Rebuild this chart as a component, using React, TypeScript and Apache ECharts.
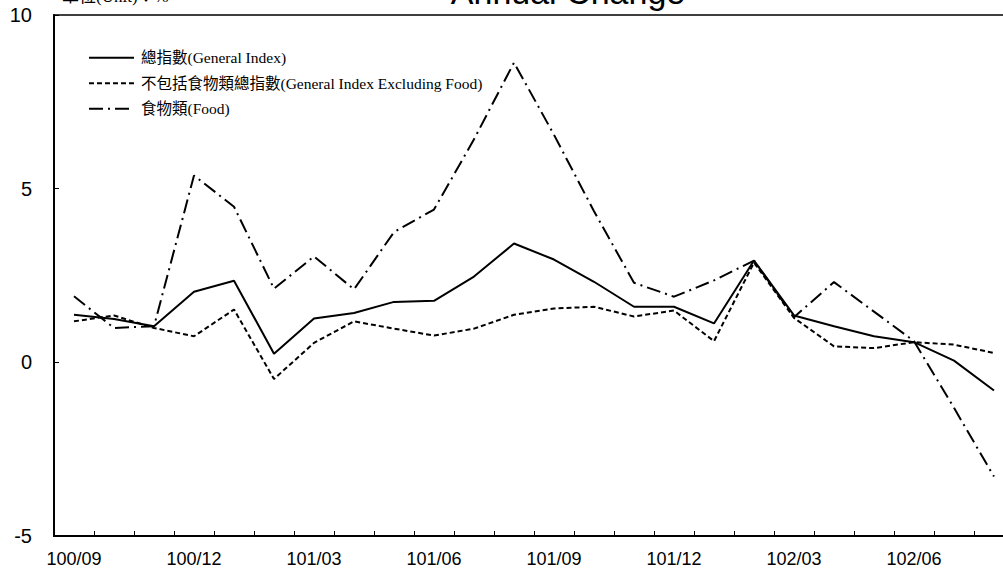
import React, { useEffect, useRef } from "react";
import * as echarts from "echarts";

const months = [
  "100/09", "100/10", "100/11", "100/12", "101/01", "101/02", "101/03", "101/04",
  "101/05", "101/06", "101/07", "101/08", "101/09", "101/10", "101/11", "101/12",
  "102/01", "102/02", "102/03", "102/04", "102/05", "102/06", "102/07", "102/08",
];

const generalIndex = [
  1.37, 1.25, 1.04, 2.03, 2.35, 0.25, 1.26, 1.42, 1.74, 1.77, 2.47, 3.42,
  2.96, 2.32, 1.6, 1.6, 1.12, 2.93, 1.35, 1.04, 0.75, 0.58, 0.05, -0.81,
];

const excludingFood = [
  1.18, 1.35, 0.99, 0.75, 1.52, -0.48, 0.56, 1.18, 0.97, 0.77, 0.97, 1.37,
  1.55, 1.6, 1.32, 1.49, 0.61, 2.87, 1.28, 0.46, 0.41, 0.58, 0.51, 0.27,
];

const food = [
  1.9, 0.99, 1.04, 5.38, 4.48, 2.12, 3.05, 2.1, 3.75, 4.4, 6.42, 8.63,
  6.55, 4.35, 2.29, 1.89, 2.36, 2.93, 1.3, 2.31, 1.46, 0.61, -1.31, -3.29,
];

const seriesNames = [
  "總指數(General Index)",
  "不包括食物類總指數(General Index Excluding Food)",
  "食物類(Food)",
];

const yTicks = { min: -5, max: 10, interval: 5 };

const SANS = "'Liberation Sans', Arial, sans-serif";
const SERIF = "'Liberation Serif', 'Noto Sans CJK TC', serif";

export default function App() {
  const ref = useRef<HTMLDivElement>(null);

  useEffect(() => {
    if (!ref.current) return;
    const chart = echarts.init(ref.current, undefined, { renderer: "svg" });
    const lineCommon = {
      type: "line" as const,
      symbol: "none",
      showSymbol: false,
      animation: false,
    };
    chart.setOption({
      animation: false,
      backgroundColor: "#ffffff",
      graphic: [
        {
          type: "text",
          x: 568,
          y: -25,
          style: {
            text: "Annual Change",
            font: `34px ${SANS}`,
            fill: "#000",
            align: "center",
            verticalAlign: "top",
            textAlign: "center",
            textVerticalAlign: "top",
          },
        },
        {
          type: "text",
          x: 62,
          y: -12,
          style: {
            text: "單位(Unit)：%",
            font: `17px ${SERIF}`,
            fill: "#000",
            align: "left",
            verticalAlign: "top",
          },
        },
      ],
      legend: {
        orient: "vertical",
        left: 88,
        top: 50,
        padding: 0,
        itemWidth: 45,
        itemHeight: 14,
        itemGap: 10,
        data: seriesNames,
        itemStyle: { opacity: 0 },
        textStyle: {
          fontFamily: SERIF,
          fontSize: 15.5,
          color: "#000",
          lineHeight: 14,
          padding: [0, 0, 0, 2],
        },
      },
      grid: {
        left: 54,
        top: 15,
        width: 960,
        bottom: 38,
        show: true,
        borderColor: "#000",
        borderWidth: 1.5,
        backgroundColor: "transparent",
      },
      xAxis: {
        type: "category",
        data: months,
        boundaryGap: true,
        axisLine: { show: true, onZero: false, lineStyle: { color: "#000", width: 2 } },
        axisTick: {
          show: true,
          inside: true,
          length: 5,
          interval: 0,
          lineStyle: { color: "#000", width: 1 },
        },
        axisLabel: {
          interval: 2,
          margin: 14,
          color: "#000",
          fontFamily: SANS,
          fontSize: 18,
        },
        splitLine: { show: false },
      },
      yAxis: {
        type: "value",
        min: yTicks.min,
        max: yTicks.max,
        interval: yTicks.interval,
        axisLine: { show: true, onZero: false, lineStyle: { color: "#000", width: 2 } },
        axisTick: {
          show: true,
          inside: true,
          length: 5,
          lineStyle: { color: "#000", width: 1 },
        },
        axisLabel: {
          margin: 22,
          color: "#000",
          fontFamily: SANS,
          fontSize: 20,
        },
        splitLine: { show: false },
      },
      series: [
        {
          ...lineCommon,
          name: seriesNames[0],
          data: generalIndex,
          itemStyle: { color: "#000" },
          lineStyle: { color: "#000", width: 2, type: "solid" },
        },
        {
          ...lineCommon,
          name: seriesNames[1],
          data: excludingFood,
          itemStyle: { color: "#000" },
          lineStyle: { color: "#000", width: 2, type: [5, 3] },
        },
        {
          ...lineCommon,
          name: seriesNames[2],
          data: food,
          itemStyle: { color: "#000" },
          lineStyle: { color: "#000", width: 2, type: [14, 5, 2, 5] },
        },
      ],
    });
    return () => chart.dispose();
  }, []);

  return (
    <div
      style={{
        position: "fixed",
        left: 0,
        top: 0,
        width: 1003,
        height: 574,
        overflow: "hidden",
        background: "#fff",
      }}
    >
      <div ref={ref} style={{ width: 1040, height: 574 }} />
    </div>
  );
}
